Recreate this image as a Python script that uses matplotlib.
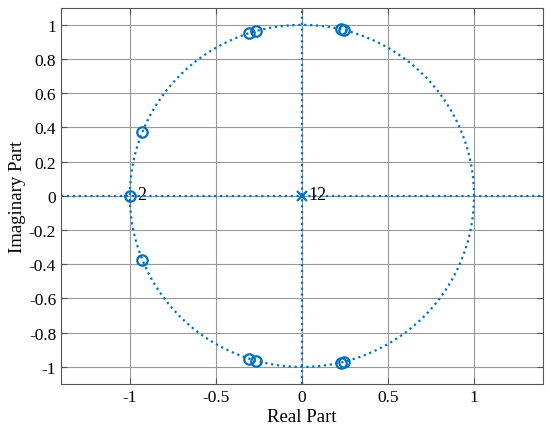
import numpy as np
import matplotlib
matplotlib.use('Agg')
import matplotlib.pyplot as plt

# zeros (upper half, conjugates are mirrored) and poles
zero_re = [-1.0, -0.93, -0.31, -0.265, 0.225, 0.245]
zero_im = [0.0, 0.375, 0.955, 0.965, 0.975, 0.97]
zero_mult = [2, 1, 1, 1, 1, 1]
pole_re = [0.0]
pole_im = [0.0]
pole_mult = [12]

x_ticks = [-1, -0.5, 0, 0.5, 1]
x_tick_labels = ['-1', '-0.5', '0', '0.5', '1']
y_ticks = [-1, -0.8, -0.6, -0.4, -0.2, 0, 0.2, 0.4, 0.6, 0.8, 1]
y_tick_labels = ['-1', '-0.8', '-0.6', '-0.4', '-0.2', '0', '0.2', '0.4', '0.6', '0.8', '1']

plt.rcParams['font.family'] = ['Liberation Serif', 'DejaVu Serif']
blue = (0, 0.447, 0.741)

fig = plt.figure(figsize=(5.5, 4.39), dpi=100)
ax = fig.add_axes([0.111, 0.123, 0.876, 0.857])

# grid first so everything else sits on top
ax.set_axisbelow(True)
ax.grid(color='#999999', linewidth=0.8)

# unit circle and axis lines, dotted like zplane
t = np.linspace(0, 2 * np.pi, 400)
ax.plot(np.cos(t), np.sin(t), linestyle=':', color=blue, linewidth=1.6)
ax.axhline(0, linestyle=':', color=blue, linewidth=1.6)
ax.axvline(0, linestyle=':', color=blue, linewidth=1.6)

zr = np.array(zero_re)
zi = np.array(zero_im)
all_re = np.concatenate([zr, zr[zi != 0]])
all_im = np.concatenate([zi, -zi[zi != 0]])
ax.plot(all_re, all_im, 'o', markerfacecolor='none', markeredgecolor=blue,
        markersize=7.5, markeredgewidth=1.6)
ax.plot(pole_re, pole_im, 'x', color=blue, markersize=7.5, markeredgewidth=1.6)

# multiplicity labels
for re, im, m in zip(zero_re, zero_im, zero_mult):
    if m > 1:
        ax.text(re + 0.04, im + 0.01, str(m), fontsize=13, va='center')
for re, im, m in zip(pole_re, pole_im, pole_mult):
    if m > 1:
        ax.text(re + 0.04, im + 0.01, str(m), fontsize=13, va='center')

ax.set_xlim(-1.4, 1.4)
ax.set_ylim(-1.1, 1.1)
ax.set_xticks(x_ticks)
ax.set_xticklabels(x_tick_labels)
ax.set_yticks(y_ticks)
ax.set_yticklabels(y_tick_labels)
ax.tick_params(direction='in', labelsize=12.5, length=4, color='#555555',
               top=True, right=True)
for s in ax.spines.values():
    s.set_color('#555555')
    s.set_linewidth(0.8)

ax.set_xlabel('Real Part', fontsize=13.5, labelpad=2)
ax.set_ylabel('Imaginary Part', fontsize=13.5, labelpad=2)

plt.savefig('out.png', dpi=100)
